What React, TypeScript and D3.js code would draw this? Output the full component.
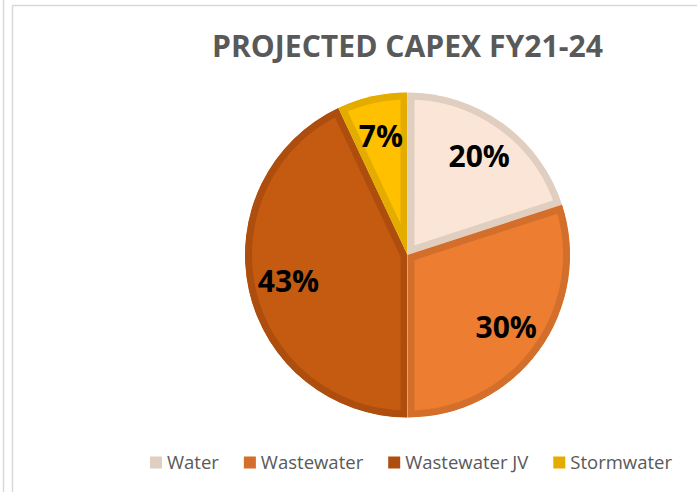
import React from 'react'
import * as d3 from 'd3'

const width = 697
const height = 492

const categories = ['Water', 'Wastewater', 'Wastewater JV', 'Stormwater']
const shares = [20, 30, 43, 7]
const fills = ['#FBE5D6', '#ED7D31', '#C55A11', '#FFC000']
const borders = ['#E0CEC1', '#D46F2B', '#AE4E0E', '#E5AC00']

const title = 'PROJECTED CAPEX FY21-24'

const cx = 407.5
const cy = 255
const radius = 162.5
const border = 7

// rough text width for legend layout
const measure = (text, font) => {
  const ctx = document.createElement('canvas').getContext('2d')
  ctx.font = font
  return ctx.measureText(text).width
}

const App = () => {
  const pie = d3.pie<number>().sort(null).value(d => d).startAngle(0).endAngle(2 * Math.PI)
  const arcs = pie(shares)
  const arc = d3.arc<d3.PieArcDatum<number>>().innerRadius(0).outerRadius(radius)
  const labelArc = d3.arc<d3.PieArcDatum<number>>().innerRadius(122).outerRadius(122)
  const total = d3.sum(shares)

  const legendSize = 18.5
  const legendFont = `${legendSize}px "Open Sans"`
  const sq = 12
  const gapText = 5
  const gapItem = 25
  const widths = categories.map(c => sq + gapText + measure(c, legendFont))
  const legendTotal = d3.sum(widths) + gapItem * (categories.length - 1)
  let lx = 411 - legendTotal / 2
  const legendX = widths.map(w => {
    const x = lx
    lx += w + gapItem
    return x
  })

  return (
    <svg width={width} height={height} style={{ position: 'absolute', left: 0, top: 0, background: '#fff' }}>
      <defs>
        {arcs.map((d, i) => (
          <clipPath key={i} id={'slice' + i}>
            <path d={arc(d)} />
          </clipPath>
        ))}
      </defs>
      <line x1={3.5} x2={3.5} y1={0} y2={height} stroke="#D9D9D9" strokeWidth={1.5} />
      <rect x={12.5} y={5.5} width={width} height={height} fill="none" stroke="#D9D9D9" strokeWidth={1.5} />

      <text x={407.5} y={57} textAnchor="middle" fontFamily='"Open Sans", sans-serif' fontWeight="bold"
        fontSize={30} fill="#595959" textLength={391} lengthAdjust="spacingAndGlyphs">{title}</text>

      <g transform={`translate(${cx},${cy})`}>
        {arcs.map((d, i) => (
          <path key={i} d={arc(d)} fill={fills[i]} stroke={borders[i]} strokeWidth={border * 2}
            clipPath={`url(#slice${i})`} />
        ))}
        {arcs.map((d, i) => {
          const [x, y] = labelArc.centroid(d)
          return (
            <text key={i} x={x} y={y} dy="0.36em" textAnchor="middle" fontFamily='"Open Sans", sans-serif'
              fontWeight="bold" fontSize={30} fill="#000">
              {Math.round((d.value / total) * 100) + '%'}
            </text>
          )
        })}
      </g>

      <g>
        {categories.map((c, i) => (
          <g key={c} transform={`translate(${legendX[i]},0)`}>
            <rect x={0} y={456.5} width={sq} height={sq} fill={borders[i]} />
            <text x={sq + gapText} y={468.5} fontFamily='"Open Sans", sans-serif' fontSize={legendSize} fill="#595959">{c}</text>
          </g>
        ))}
      </g>
    </svg>
  )
}

export default App
